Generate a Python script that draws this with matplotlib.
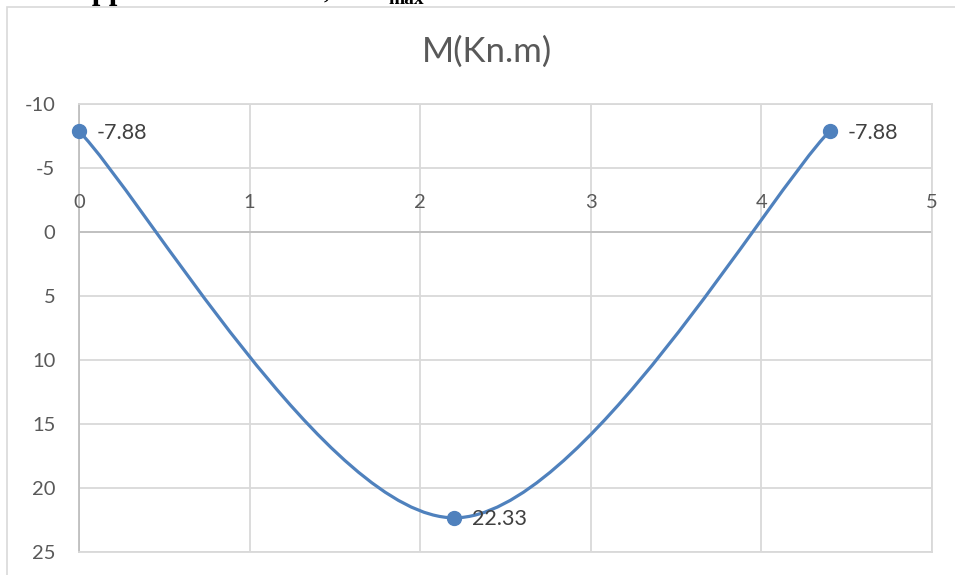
import numpy as np
import matplotlib.pyplot as plt
from matplotlib.path import Path
from matplotlib.patches import PathPatch, Rectangle

# Bending moment along the span
x_pos = [0.0, 2.2, 4.4]
moment = [-7.88, 22.33, -7.88]
point_labels = ["-7.88", "22.33", "-7.88"]
x_ticks = [0, 1, 2, 3, 4, 5]
y_ticks = [-10, -5, 0, 5, 10, 15, 20, 25]
title = "M(Kn.m)"

BLUE = "#4f81bd"
GRID = "#d9d9d9"
TICK = "#595959"
LABEL = "#404040"
FONT = ["Lato", "DejaVu Sans"]

plt.rcParams["font.family"] = FONT
plt.rcParams["axes.unicode_minus"] = False

fig = plt.figure(figsize=(9.55, 5.75), dpi=100)

# outer chart frame (extends past the right/bottom edge)
fig.patches.append(Rectangle((7 / 955, -0.1), 1.2, 1.1 - 7 / 575,
                             transform=fig.transFigure, fill=False,
                             edgecolor=GRID, linewidth=1.2))

# clipped caption from the surrounding document
fig.text(58 / 955, 1 + 1.5 / 575, "Support", fontfamily="Liberation Serif",
         fontweight="bold", fontsize=22, va="baseline", ha="left", color="black")
fig.text(324 / 955, 1 + 1 / 575, ",", fontfamily="Liberation Serif",
         fontweight="bold", fontsize=16, va="baseline", ha="left", color="black")
fig.text(388 / 955, 1 - 4 / 575, "max", fontfamily="Liberation Serif",
         fontweight="bold", fontsize=14, va="baseline", ha="left", color="black")

ax = fig.add_axes([79 / 955, 1 - 552 / 575, (932 - 79) / 955, (552 - 104) / 575])
ax.set_xlim(0, 5)
ax.set_ylim(25, -10)
ax.set_xticks(x_ticks)
ax.set_yticks(y_ticks)
ax.grid(True, color=GRID, linewidth=1.3)
ax.set_axisbelow(True)
for s in ax.spines.values():
    s.set_color(GRID)
    s.set_linewidth(1.3)
ax.spines["left"].set_color("#bfbfbf")
ax.tick_params(length=0)
ax.tick_params(axis="y", labelsize=14.5, labelcolor=TICK, pad=17)
ax.set_xticklabels([])

# horizontal axis line at zero with its labels above it
ax.axhline(0, color="#bfbfbf", linewidth=1.3, zorder=1)
for xv in x_ticks:
    ax.annotate(str(xv), (xv, 0), xytext=(0, 15), textcoords="offset points",
                ha="center", va="bottom", fontsize=14.5, color=TICK)

# smoothed line through the points (cubic Bezier, Catmull-Rom style tangents)
pts = np.column_stack([x_pos, moment])
n = len(pts)
verts = [tuple(pts[0])]
codes = [Path.MOVETO]
for i in range(n - 1):
    p_prev = pts[i - 1] if i > 0 else pts[i]
    p_next2 = pts[i + 2] if i + 2 < n else pts[i + 1]
    c1 = pts[i] + (pts[i + 1] - p_prev) / 6.0
    c2 = pts[i + 1] - (p_next2 - pts[i]) / 6.0
    verts += [tuple(c1), tuple(c2), tuple(pts[i + 1])]
    codes += [Path.CURVE4] * 3
ax.add_patch(PathPatch(Path(verts, codes), fill=False, edgecolor=BLUE,
                       linewidth=2.3, capstyle="round", zorder=3))
ax.plot(x_pos, moment, linestyle="none", marker="o", markersize=10,
        color=BLUE, zorder=4, clip_on=False)

for xv, yv, lab in zip(x_pos, moment, point_labels):
    ax.annotate(lab, (xv, yv), xytext=(13, -1), textcoords="offset points",
                ha="left", va="center", fontsize=15.5, color=LABEL)

fig.text(487 / 955, 1 - 52 / 575, title, fontsize=25, color=TICK,
         ha="center", va="center")

fig.savefig("out.png", dpi=100)
